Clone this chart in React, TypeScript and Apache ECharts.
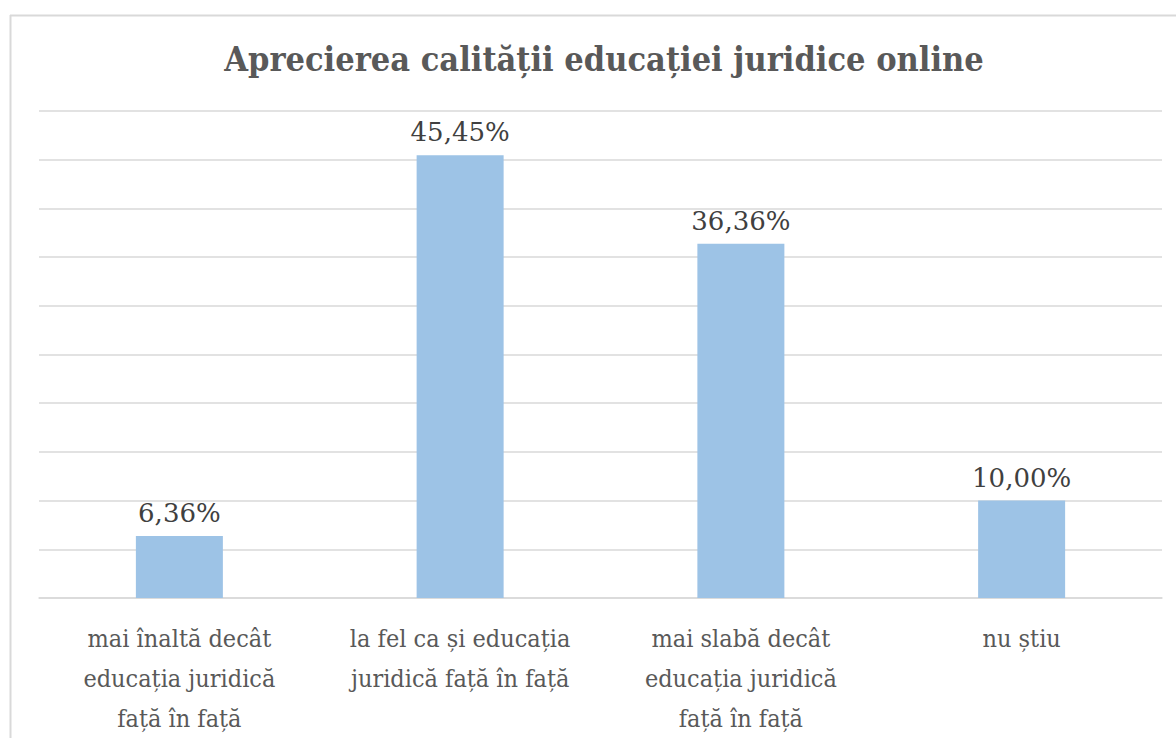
import React, { useEffect, useRef } from "react";
import * as echarts from "echarts";

const categories = [
  "mai înaltă decât\neducația juridică\nfață în față",
  "la fel ca și educația\njuridică față în față",
  "mai slabă decât\neducația juridică\nfață în față",
  "nu știu",
];
const values = [6.36, 45.45, 36.36, 10.0];
const titleText = "Aprecierea calității educației juridice online";

export default function App() {
  const ref = useRef<HTMLDivElement>(null);
  useEffect(() => {
    if (!ref.current) return;
    const chart = echarts.init(ref.current, undefined, { renderer: "svg" });
    const serif = "'DejaVu Serif', 'Liberation Serif', serif";
    const serifCond = "'DejaVu Serif Condensed', 'Liberation Serif', serif";
    chart.setOption({
      animation: false,
      backgroundColor: "#ffffff",
      title: {
        text: titleText,
        left: 599,
        top: 37,
        textAlign: "center",
        textStyle: {
          fontFamily: serifCond,
          fontWeight: "bold",
          fontSize: 34,
          color: "#595959",
        },
      },
      graphic: [
        {
          type: "line",
          shape: { x1: 10.5, y1: 15, x2: 10.5, y2: 738 },
          style: { stroke: "#d9d9d9", lineWidth: 2 },
        },
        {
          type: "line",
          shape: { x1: 10, y1: 15.5, x2: 1176, y2: 15.5 },
          style: { stroke: "#d9d9d9", lineWidth: 2 },
        },
      ],
      grid: { left: 39, right: 14, top: 111, bottom: 138, containLabel: false },
      xAxis: {
        type: "category",
        data: categories,
        axisTick: { show: false },
        axisLine: { lineStyle: { color: "#d9d9d9", width: 1.5 } },
        axisLabel: {
          interval: 0,
          margin: 20,
          fontFamily: serifCond,
          fontSize: 25,
          lineHeight: 40,
          color: "#595959",
        },
      },
      yAxis: {
        type: "value",
        min: 0,
        max: 50,
        interval: 5,
        axisLabel: { show: false },
        axisLine: { show: false },
        axisTick: { show: false },
        splitLine: { lineStyle: { color: "#d9d9d9", width: 1.5 } },
      },
      series: [
        {
          type: "bar",
          data: values,
          barWidth: 87,
          itemStyle: { color: "#9dc3e6" },
          label: {
            show: true,
            position: "top",
            distance: 10,
            fontFamily: serif,
            fontSize: 26,
            color: "#404040",
            formatter: (p: any) => p.value.toFixed(2).replace(".", ",") + "%",
          },
        },
      ],
    });
    return () => chart.dispose();
  }, []);
  return (
    <div
      ref={ref}
      style={{ position: "fixed", left: 0, top: 0, width: 1176, height: 738 }}
    />
  );
}
